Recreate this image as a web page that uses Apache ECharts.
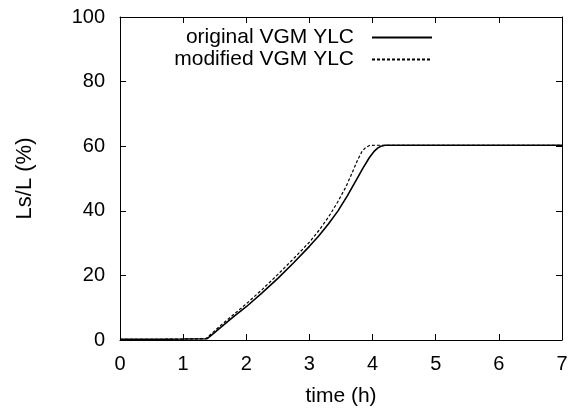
<!DOCTYPE html>
<html>
<head>
<meta charset="utf-8">
<script src="https://cdn.jsdelivr.net/npm/echarts@6/dist/echarts.min.js"></script>
<style>
html,body{margin:0;padding:0;background:#fff;}
#chart{width:583px;height:414px;}
</style>
</head>
<body>
<div id="chart"></div>
<script>
// Data
var seriesNames = ['original VGM YLC', 'modified VGM YLC'];
var tOrig = [0, 0.5, 1.0, 1.38, 1.45, 1.6, 1.8, 2.0, 2.25, 2.5, 2.75, 3.0, 3.15, 3.3, 3.45, 3.6, 3.75, 3.85, 3.95, 4.02, 4.08, 4.13, 4.2, 4.3, 5, 6, 7];
var vOrig = [0.2, 0.2, 0.3, 0.4, 1.5, 4.0, 7.2, 10.3, 14.6, 19.1, 23.9, 29.0, 32.3, 35.9, 39.9, 44.6, 49.8, 53.3, 56.5, 58.3, 59.4, 60.0, 60.3, 60.3, 60.3, 60.3, 60.3];
var tMod = [0, 0.5, 1.0, 1.36, 1.45, 1.6, 1.8, 2.0, 2.25, 2.5, 2.75, 3.0, 3.15, 3.3, 3.45, 3.58, 3.68, 3.76, 3.83, 3.89, 3.95, 4.03, 5, 6, 7];
var vMod = [0.2, 0.2, 0.3, 0.4, 2.0, 4.6, 7.9, 11.2, 15.6, 20.3, 25.2, 30.3, 33.9, 38.0, 42.8, 47.5, 51.9, 55.6, 58.3, 59.6, 60.2, 60.3, 60.3, 60.3, 60.3];
var xTicks = [0, 1, 2, 3, 4, 5, 6, 7];
var yTicks = [0, 20, 40, 60, 80, 100];

function pairs(xs, ys) { return xs.map(function (x, i) { return [x, ys[i]]; }); }

var FONT = 'Liberation Sans, Arial, Helvetica, sans-serif';
var axisCommon = {
  axisLine: { show: true, onZero: false, lineStyle: { color: '#000', width: 1 } },
  axisTick: { show: true, inside: true, length: 6, lineStyle: { color: '#000', width: 1 } },
  splitLine: { show: false }
};

var chart = echarts.init(document.getElementById('chart'), null, { renderer: 'canvas' });
chart.setOption({
  animation: false,
  backgroundColor: '#fff',
  grid: { left: 120, right: 21, top: 17, bottom: 74, containLabel: false },
  legend: {
    orient: 'vertical',
    align: 'right',
    right: 150,
    top: 27,
    itemWidth: 60,
    itemHeight: 10,
    itemGap: 1,
    padding: 0,
    data: seriesNames,
    itemStyle: { opacity: 0 },
    textStyle: { fontFamily: FONT, fontSize: 21, color: '#000', lineHeight: 20, padding: [0, 13, 0, 0] }
  },
  xAxis: [
    Object.assign({
      type: 'value', min: xTicks[0], max: xTicks[xTicks.length - 1], interval: 1,
      name: 'time (h)', nameLocation: 'middle', nameGap: 46,
      nameTextStyle: { fontFamily: FONT, fontSize: 21, color: '#000' },
      axisLabel: { margin: 14, fontFamily: FONT, fontSize: 20, color: '#000' }
    }, axisCommon),
    Object.assign({
      type: 'value', position: 'top', min: xTicks[0], max: xTicks[xTicks.length - 1], interval: 1,
      axisLabel: { show: false }
    }, axisCommon)
  ],
  yAxis: [
    Object.assign({
      type: 'value', min: yTicks[0], max: yTicks[yTicks.length - 1], interval: 20,
      name: 'Ls/L (%)', nameLocation: 'middle', nameGap: 84, nameRotate: 90,
      nameTextStyle: { fontFamily: FONT, fontSize: 22, color: '#000' },
      axisLabel: { margin: 15, fontFamily: FONT, fontSize: 20, color: '#000' }
    }, axisCommon),
    Object.assign({
      type: 'value', position: 'right', min: yTicks[0], max: yTicks[yTicks.length - 1], interval: 20,
      axisLabel: { show: false }
    }, axisCommon)
  ],
  series: [
    {
      name: seriesNames[0], type: 'line', data: pairs(tOrig, vOrig),
      showSymbol: false, symbol: 'none', smooth: false,
      lineStyle: { color: '#000', width: 1.6, type: 'solid' },
      itemStyle: { color: '#000' }
    },
    {
      name: seriesNames[1], type: 'line', data: pairs(tMod, vMod),
      showSymbol: false, symbol: 'none', smooth: false,
      lineStyle: { color: '#000', width: 1.2, type: [3, 2] },
      itemStyle: { color: '#000' }
    }
  ]
});
</script>
</body>
</html>
